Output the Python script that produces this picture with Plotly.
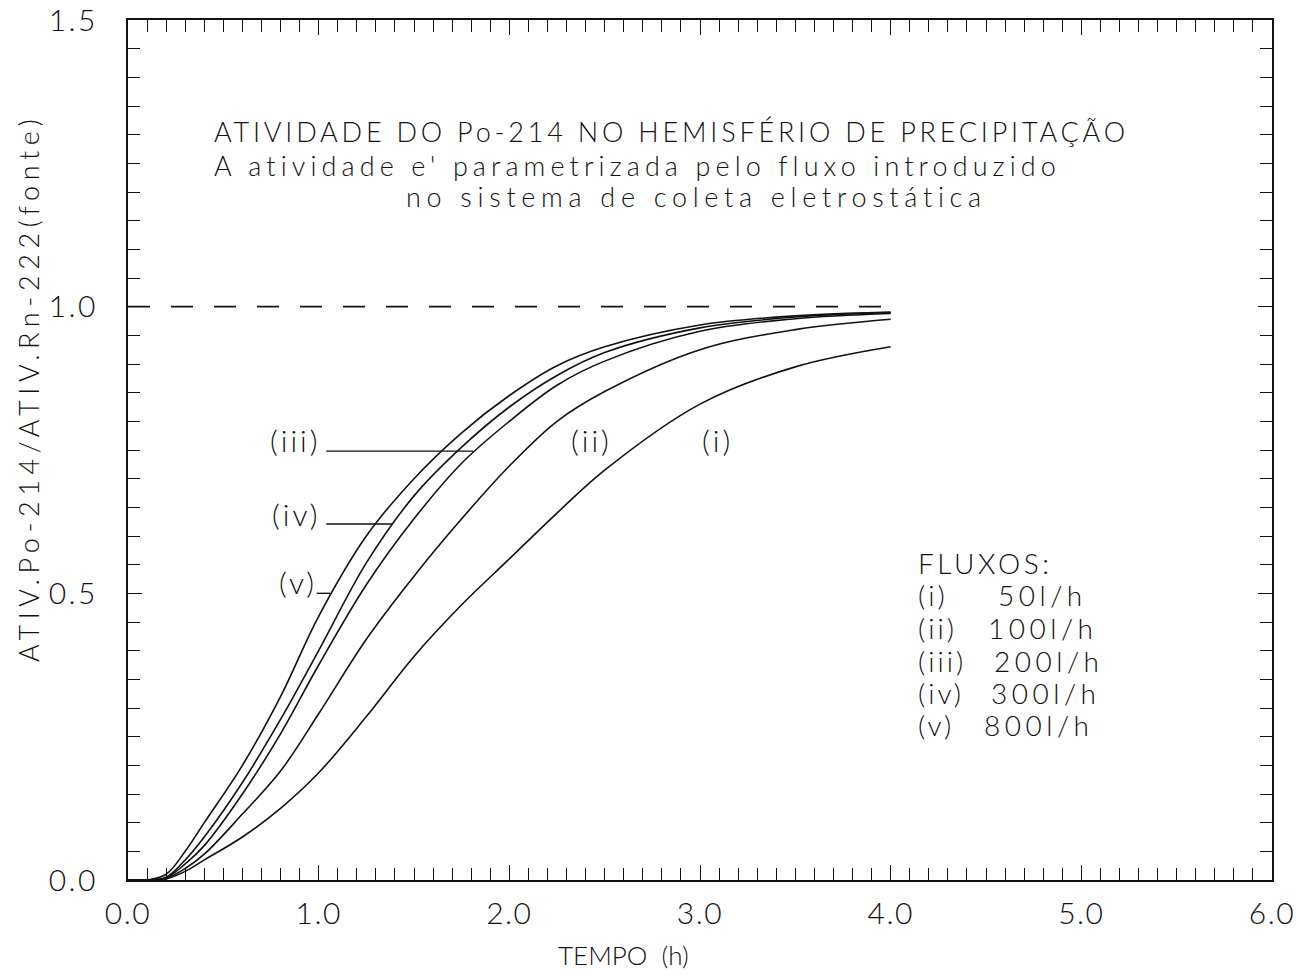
import plotly.graph_objects as go

# ---- data ----
tempo = [0.0, 0.1, 0.2, 0.3, 0.4, 0.6, 0.8, 1.0, 1.25, 1.5, 1.75, 2.0, 2.25, 2.5, 3.0, 3.5, 4.0]
ativ_i   = [0.0, 0.0, 0.002, 0.015, 0.035, 0.075, 0.125, 0.187, 0.285, 0.39, 0.48, 0.56, 0.64, 0.715, 0.83, 0.895, 0.93]
ativ_ii  = [0.0, 0.0, 0.003, 0.02, 0.045, 0.115, 0.19, 0.29, 0.42, 0.53, 0.63, 0.722, 0.80, 0.852, 0.925, 0.96, 0.978]
ativ_iii = [0.0, 0.0, 0.004, 0.028, 0.06, 0.15, 0.255, 0.375, 0.515, 0.63, 0.727, 0.80, 0.863, 0.905, 0.957, 0.979, 0.988]
ativ_iv  = [0.0, 0.0, 0.005, 0.035, 0.075, 0.17, 0.28, 0.40, 0.553, 0.67, 0.755, 0.825, 0.88, 0.92, 0.963, 0.982, 0.99]
ativ_v   = [0.0, 0.0, 0.01, 0.05, 0.10, 0.20, 0.32, 0.46, 0.60, 0.70, 0.78, 0.845, 0.897, 0.93, 0.968, 0.984, 0.99]
series = [ativ_i, ativ_ii, ativ_iii, ativ_iv, ativ_v]
series_names = ["(i)", "(ii)", "(iii)", "(iv)", "(v)"]

ref_x = [0.0, 4.0]
ref_y = [1.0, 1.0]

x_ticks = [0, 1, 2, 3, 4, 5, 6]
x_ticklabels = ["0.0", "1.0", "2.0", "3.0", "4.0", "5.0", "6.0"]
y_ticks = [0.0, 0.5, 1.0, 1.5]
y_ticklabels = ["0.0", "0.5", "1.0", "1.5"]

title_lines = ["ATIVIDADE DO Po-214 NO HEMISFÉRIO DE PRECIPITAÇÃO",
               "A atividade e' parametrizada pelo fluxo introduzido",
               "no sistema de coleta eletrostática"]
legend_title = "FLUXOS:"
legend_keys = ["(i)", "(ii)", "(iii)", "(iv)", "(v)"]
legend_vals = ["50l/h", "100l/h", "200l/h", "300l/h", "800l/h"]

FONT = "Lato"
WEIGHT = 300
INK = "#111111"


def sp(t, ls):
    return '<span style="letter-spacing:%spx">%s</span>' % (ls, t)


def fnt(size):
    return dict(family=FONT, size=size, color=INK, weight=WEIGHT)


fig = go.Figure()
for name, ys in zip(series_names, series):
    fig.add_trace(go.Scatter(x=tempo, y=ys, mode="lines", name=name,
                             line=dict(color=INK, width=1.6, shape="spline", smoothing=1.0),
                             showlegend=False, hoverinfo="skip"))
fig.add_trace(go.Scatter(x=ref_x, y=ref_y, mode="lines", showlegend=False, hoverinfo="skip",
                         line=dict(color=INK, width=1.6, dash="22px,21px")))

ann = []
# title block
title_pos = [(0.446, 1.305, 3.8), (0.446, 1.247, 5.1), (1.453, 1.193, 5.7)]
for t, (x, y, ls) in zip(title_lines, title_pos):
    ann.append(dict(x=x, y=y, xref="x", yref="y", text=sp(t, ls), xanchor="left",
                    yanchor="middle", showarrow=False, borderpad=0, font=fnt(27)))

# curve labels
curve_labels = [("(iii)", 0.88, 0.767), ("(iv)", 0.88, 0.638), ("(v)", 0.89, 0.519),
                ("(ii)", 2.43, 0.767), ("(i)", 3.09, 0.767)]
for t, x, y in curve_labels:
    ann.append(dict(x=x, y=y, xref="x", yref="y", text=sp(t, 3), showarrow=False,
                    xanchor="center", yanchor="middle", font=fnt(30)))

# legend block
ann.append(dict(x=4.137, y=0.553, xref="x", yref="y", text=sp(legend_title, 3.5), xanchor="left",
                yanchor="middle", showarrow=False, borderpad=0, font=fnt(28)))
leg_y = [0.497, 0.44, 0.382, 0.326, 0.27]
leg_vx = [4.557, 4.504, 4.536, 4.52, 4.483]
for k, v, yy, vx in zip(legend_keys, legend_vals, leg_y, leg_vx):
    ann.append(dict(x=4.137, y=yy, xref="x", yref="y", text=sp(k, 3), xanchor="left", yanchor="middle",
                    showarrow=False, borderpad=0, font=fnt(28)))
    ann.append(dict(x=vx, y=yy, xref="x", yref="y", text=sp(v, 4.5), xanchor="left", yanchor="middle",
                    showarrow=False, borderpad=0, font=fnt(28)))

# axis titles
ann.append(dict(x=0.433, y=-0.087, xref="paper", yref="paper", text="TEMPO  (h)", showarrow=False,
                xanchor="center", yanchor="middle", font=fnt(26)))
ann.append(dict(x=-0.0875, y=0.572, xref="paper", yref="paper",
                text=sp("ATIV.Po-214/ATIV.Rn-222(fonte)", 5.6), textangle=-90, showarrow=False,
                xanchor="center", yanchor="middle", font=fnt(27)))

# leader lines for labels
leaders = [(1.04, 1.81, 0.748), (1.04, 1.385, 0.621), (0.99, 1.06, 0.50)]
shapes = [dict(type="line", xref="x", yref="y", x0=a, x1=b, y0=y, y1=y, line=dict(color=INK, width=1.4))
          for a, b, y in leaders]

fig.update_layout(
    width=1297, height=975,
    margin=dict(l=128, r=25, t=20, b=95),
    paper_bgcolor="white", plot_bgcolor="white",
    annotations=ann, shapes=shapes,
    font=fnt(28),
    xaxis=dict(range=[0, 6], tickvals=x_ticks, ticktext=[sp(t, 1.5) for t in x_ticklabels],
               ticks="inside", ticklen=15, tickwidth=1.4, tickcolor=INK, showgrid=False, zeroline=False,
               showline=True, linecolor=INK, linewidth=2, mirror="ticks", ticklabelstandoff=6,
               ticklabeloverflow="allow", automargin=False,
               minor=dict(dtick=0.1, ticks="inside", ticklen=12, tickwidth=1.4, tickcolor=INK, showgrid=False),
               tickfont=fnt(30)),
    yaxis=dict(range=[0, 1.5], tickvals=y_ticks, ticktext=[sp(t, 2.5) for t in y_ticklabels],
               ticks="inside", ticklen=14, tickwidth=1.4, tickcolor=INK, showgrid=False, zeroline=False,
               showline=True, linecolor=INK, linewidth=2, mirror="ticks", ticklabelstandoff=22,
               ticklabeloverflow="allow", automargin=False,
               minor=dict(dtick=0.05, ticks="inside", ticklen=12, tickwidth=1.4, tickcolor=INK, showgrid=False),
               tickfont=fnt(30)),
)

fig.write_html("out.html", config={"displayModeBar": False},
               post_script="document.body.style.margin='0';document.body.style.overflow='hidden';")
